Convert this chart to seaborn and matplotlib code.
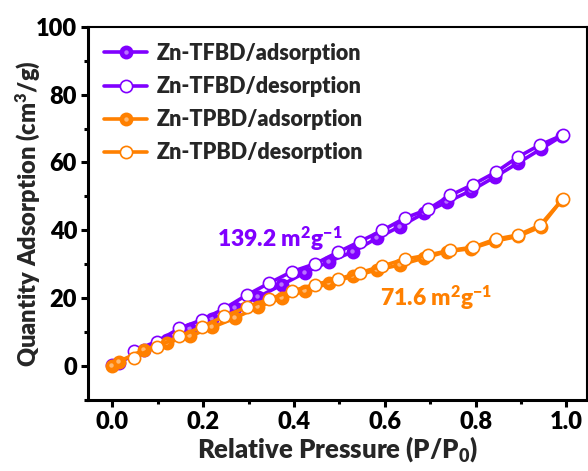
import numpy as np
import pandas as pd
import matplotlib
matplotlib.use("Agg")
import matplotlib.pyplot as plt
import matplotlib.transforms as mtransforms
import seaborn as sns
from matplotlib.ticker import MultipleLocator
from matplotlib.lines import Line2D
from matplotlib.legend_handler import HandlerTuple

# ---- data ----
ads_x = [0.0, 0.014, 0.069, 0.12, 0.171, 0.22, 0.27, 0.322, 0.373, 0.424, 0.478,
         0.53, 0.583, 0.633, 0.686, 0.736, 0.79, 0.842, 0.893, 0.943, 0.99]
des_x = [0.047, 0.098, 0.148, 0.197, 0.245, 0.296, 0.345, 0.395, 0.446, 0.496,
         0.545, 0.595, 0.644, 0.695, 0.744, 0.794, 0.844, 0.893, 0.942, 0.992]
tfbd_ads = [0.2, 1.0, 4.6, 7.6, 10.8, 13.8, 17.0, 20.4, 23.9, 27.5, 30.8,
            33.7, 37.7, 41.1, 45.0, 48.3, 51.7, 55.7, 59.8, 63.9, 67.8]
tfbd_des = [4.5, 7.2, 11.1, 13.6, 16.8, 20.9, 24.4, 27.8, 30.1, 33.5,
            36.7, 40.0, 43.6, 46.2, 50.3, 53.5, 57.1, 61.6, 65.2, 68.1]
tpbd_ads = [0.1, 1.3, 4.7, 6.9, 8.8, 11.4, 14.1, 17.5, 20.0, 22.1, 24.4,
            26.5, 28.3, 29.8, 31.8, 33.7, 34.6, 36.8, 38.2, 41.0, 49.0]
tpbd_des = [2.4, 5.7, 8.7, 11.5, 14.6, 17.3, 19.7, 22.1, 24.0, 25.6,
            27.5, 29.5, 31.5, 32.7, 34.1, 35.0, 37.4, 38.6, 41.5, 49.2]
series_names = ["Zn-TFBD/adsorption", "Zn-TFBD/desorption",
                "Zn-TPBD/adsorption", "Zn-TPBD/desorption"]
bet_labels = ["139.2", "71.6"]

PURPLE = "#8000FF"
ORANGE = "#FF8000"
W = "heavy"

sns.set_theme(style="ticks")
plt.rcParams['font.family'] = ['Lato', 'DejaVu Sans']
plt.rcParams['font.weight'] = W
plt.rcParams['mathtext.fontset'] = 'custom'
plt.rcParams['mathtext.rm'] = 'Lato:heavy'
plt.rcParams['mathtext.bf'] = 'Lato:heavy'
plt.rcParams['mathtext.it'] = 'Lato:heavy'

fig = plt.figure(figsize=(5.88, 4.71), dpi=100)
ax = fig.add_axes([0.150, 0.151, 0.848, 0.792])

frames = []
for name, xs, ys in [(series_names[0], ads_x, tfbd_ads), (series_names[1], des_x, tfbd_des),
                     (series_names[2], ads_x, tpbd_ads), (series_names[3], des_x, tpbd_des)]:
    frames.append(pd.DataFrame({"p": xs, "q": ys, "series": name}))
df = pd.concat(frames, ignore_index=True)

styles = {
    series_names[0]: dict(color=PURPLE, mfc=PURPLE, z=3, filled=True),
    series_names[1]: dict(color=PURPLE, mfc="white", z=4, filled=False),
    series_names[2]: dict(color=ORANGE, mfc=ORANGE, z=5, filled=True),
    series_names[3]: dict(color=ORANGE, mfc="white", z=6, filled=False),
}
shine = mtransforms.offset_copy(ax.transData, fig=fig, x=-1.0, y=1.0, units="dots")
handles = []
for name in series_names:
    st = styles[name]
    sub = df[df["series"] == name]
    sns.lineplot(data=sub, x="p", y="q", ax=ax, sort=False, color=st["color"],
                 linewidth=2.6, marker="o", markersize=8.8,
                 markerfacecolor=st["mfc"], markeredgecolor=st["color"],
                 markeredgewidth=1.2, zorder=st["z"], legend=False)
    h = Line2D([], [], color=st["color"], linewidth=2.6, marker="o",
               markersize=8.8, markerfacecolor=st["mfc"],
               markeredgecolor=st["color"], markeredgewidth=1.2)
    if st["filled"]:
        ax.plot(sub["p"], sub["q"], linestyle="none", marker="o", markersize=3.2,
                markerfacecolor="white", markeredgewidth=0, alpha=0.45,
                transform=shine, zorder=st["z"] + 0.5)
        h2 = Line2D([], [], linestyle="none", marker="o", markersize=3.2,
                    markerfacecolor="white", markeredgewidth=0, alpha=0.45)
        handles.append((h, h2))
    else:
        handles.append(h)

ax.set_xlim(-0.053, 1.045)
ax.set_ylim(-10, 100)
ax.xaxis.set_minor_locator(MultipleLocator(0.1))
ax.yaxis.set_major_locator(MultipleLocator(20))
ax.yaxis.set_minor_locator(MultipleLocator(10))
ax.set_xticks(np.arange(0, 1.01, 0.2))
ax.set_xticklabels(["0.0", "0.2", "0.4", "0.6", "0.8", "1.0"])

for s in ["left", "bottom"]:
    ax.spines[s].set_linewidth(2.2)
    ax.spines[s].set_color("black")
for s in ["top", "right"]:
    ax.spines[s].set_linewidth(1.5)
    ax.spines[s].set_color("black")
    ax.spines[s].set_visible(True)

ax.tick_params(axis="both", which="major", direction="out", length=5, width=2.2,
               labelsize=17, color="black", labelcolor="black", pad=3)
ax.tick_params(axis="both", which="minor", direction="out", length=3, width=2.2,
               color="black")
for lab in ax.get_xticklabels() + ax.get_yticklabels():
    lab.set_fontweight(W)

ax.set_xlabel(r"Relative Pressure (P/P$_{0}$)", fontsize=18.5, fontweight=W,
              labelpad=1)
ax.set_ylabel(r"Quantity Adsorption (cm$^{3}$/g)", fontsize=17, fontweight=W)
ax.yaxis.set_label_coords(-0.092, 0.5)

leg = ax.legend(handles, series_names, loc="upper left", frameon=False,
                prop={"family": "Lato", "weight": W, "size": 15.5},
                handlelength=2.0, handletextpad=0.45, labelspacing=0.56,
                borderaxespad=0.35, bbox_to_anchor=(0.0, 1.0),
                handler_map={tuple: HandlerTuple(ndivide=1, pad=0)})

ax.text(0.23, 37.5, bet_labels[0] + r" m$^{2}$g$^{-1}$", color=PURPLE, fontsize=16.5,
        fontweight=W, va="center", ha="left")
ax.text(0.59, 20.0, bet_labels[1] + r" m$^{2}$g$^{-1}$", color=ORANGE, fontsize=16.5,
        fontweight=W, va="center", ha="left")

fig.savefig("out.png", dpi=100)
